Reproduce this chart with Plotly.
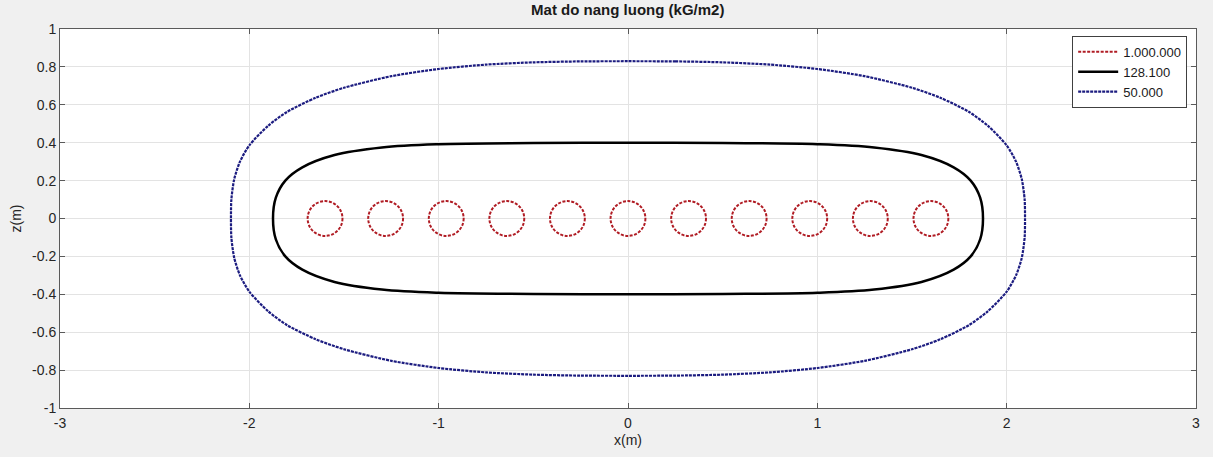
import plotly.graph_objects as go

# ---- data ----
circle_x = [-1.60, -1.28, -0.96, -0.64, -0.32, 0.00, 0.32, 0.64, 0.96, 1.28, 1.60]
circle_z = [0.0] * 11
circle_r = [0.092] * 11

# upper-right quarter of the 128.100 contour (mirrored for the rest)
mid_x = [0.0, 0.5, 1.0, 1.3, 1.55, 1.72, 1.81, 1.86, 1.875]
mid_z = [0.40, 0.398, 0.392, 0.375, 0.335, 0.27, 0.20, 0.11, 0.0]

# upper-right quarter of the 50.000 contour
out_x = [0.0, 0.25, 0.5, 0.75, 1.0, 1.25, 1.5, 1.65, 1.8, 1.9, 2.0, 2.05, 2.08, 2.095, 2.097]
out_z = [0.83, 0.829, 0.824, 0.812, 0.789, 0.751, 0.690, 0.637, 0.563, 0.49, 0.386, 0.299, 0.207, 0.10, 0.0]

legend_names = ["1.000.000", "128.100", "50.000"]
x_ticks = [-3, -2, -1, 0, 1, 2, 3]
y_ticks = [-1, -0.8, -0.6, -0.4, -0.2, 0, 0.2, 0.4, 0.6, 0.8, 1]
y_tick_text = ["-1", "-0.8", "-0.6", "-0.4", "-0.2", "0", "0.2", "0.4", "0.6", "0.8", "1"]

RED = "#b01c24"
BLUE = "#1c1c80"
FONT = "Liberation Sans, Arial"


def closed(xs, zs):
    # mirror a quarter curve into a closed loop
    right_x = list(xs) + [x for x in reversed(xs[:-1])]
    right_z = list(zs) + [-z for z in reversed(zs[:-1])]
    left_x = [-x for x in reversed(right_x)]
    left_z = [z for z in reversed(right_z)]
    return right_x + left_x[1:], right_z + left_z[1:]


fig = go.Figure()

# legend entry for the circle contours (drawn as shapes below)
fig.add_trace(go.Scatter(x=[None], y=[None], mode="lines", name=legend_names[0],
                         line=dict(color=RED, width=2, dash="3px,1.5px")))

mx, mz = closed(mid_x, mid_z)
fig.add_trace(go.Scatter(x=mx, y=mz, mode="lines", name=legend_names[1],
                         line=dict(color="black", width=2.5, shape="spline", smoothing=1.0)))

ox, oz = closed(out_x, out_z)
fig.add_trace(go.Scatter(x=ox, y=oz, mode="lines", name=legend_names[2],
                         line=dict(color=BLUE, width=2.2, dash="3px,1px", shape="spline", smoothing=0.7)))

shapes = []
for cx, cz, r in zip(circle_x, circle_z, circle_r):
    shapes.append(dict(type="circle", xref="x", yref="y",
                       x0=cx - r, x1=cx + r, y0=cz - r, y1=cz + r,
                       line=dict(color=RED, width=2, dash="3px,1.5px")))

axis_common = dict(showgrid=True, gridcolor="#e3e3e3", gridwidth=1,
                   zeroline=False, showline=True, linecolor="#5a5a5a", linewidth=1,
                   mirror="allticks", ticks="inside", ticklen=5, tickcolor="#5a5a5a",
                   tickfont=dict(family=FONT, size=14, color="#262626"))

fig.update_layout(
    width=1213, height=457,
    margin=dict(l=60, r=17, t=29, b=49),
    paper_bgcolor="#f0f0f0", plot_bgcolor="white",
    shapes=shapes,
    title=dict(text="<b>Mat do nang luong (kG/m2)</b>", x=0.5175, xanchor="center",
               y=0.99, yanchor="top",
               font=dict(family=FONT, size=15, color="#1a1a1a")),
    xaxis=dict(range=[-3, 3], tickvals=x_ticks, ticktext=[str(t) for t in x_ticks],
               ticklabelstandoff=2, **axis_common),
    yaxis=dict(range=[-1, 1], tickvals=y_ticks, ticktext=y_tick_text,
               **axis_common),
    annotations=[
        dict(text="x(m)", xref="paper", yref="paper", x=0.5, y=-0.0844,
             xanchor="center", yanchor="middle", showarrow=False,
             font=dict(family=FONT, size=14, color="#262626")),
        dict(text="z(m)", xref="paper", yref="paper", x=-0.0396, y=0.5,
             xanchor="center", yanchor="middle", showarrow=False, textangle=-90,
             font=dict(family=FONT, size=14, color="#262626")),
    ],
    legend=dict(x=0.891, y=0.982, xanchor="left", yanchor="top",
                bgcolor="white", bordercolor="#404040", borderwidth=1,
                font=dict(family=FONT, size=13, color="#1a1a1a"),
                tracegroupgap=0, itemwidth=40),
    showlegend=True,
)

fig.write_html("out.html")
